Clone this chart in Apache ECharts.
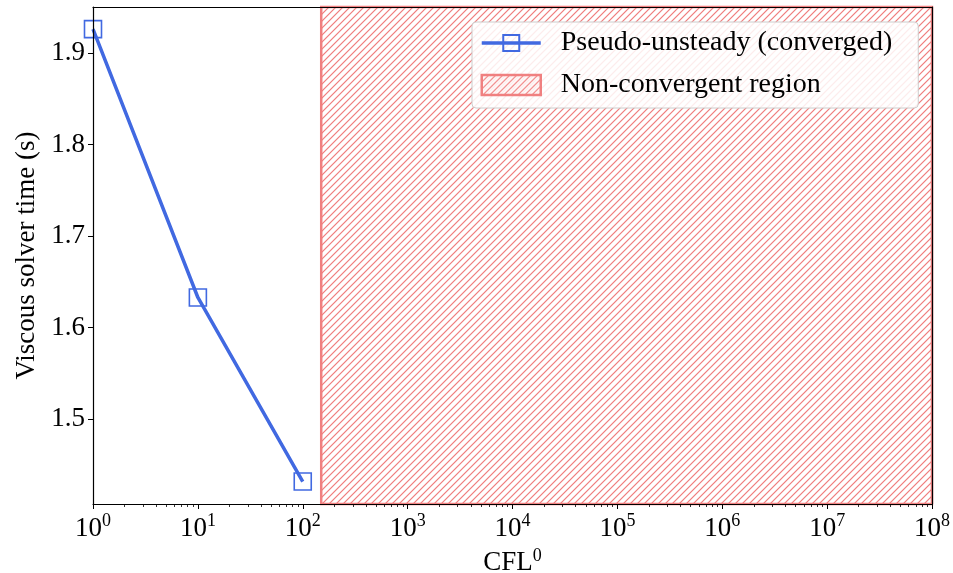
<!DOCTYPE html>
<html>
<head>
<meta charset="utf-8">
<script src="https://cdn.jsdelivr.net/npm/echarts@6/dist/echarts.min.js"></script>
<style>html,body{margin:0;padding:0;background:#fff}#chart{width:953px;height:573px}</style>
</head>
<body>
<div id="chart"></div>
<script>
// ---- data ----
const cflValues = [1, 10, 100];
const solverTimes = [1.926, 1.633, 1.432];
const regionStart = 150;
const regionEnd = 1e8;
const xMajorTicks = [1, 10, 100, 1e3, 1e4, 1e5, 1e6, 1e7, 1e8];
const yTicks = [1.5, 1.6, 1.7, 1.8, 1.9];
const xMin = 1, xMax = 1e8;
const yMin = 1.4075, yMax = 1.9502;
const seriesName = 'Pseudo-unsteady (converged)';
const regionName = 'Non-convergent region';

// minor tick positions (2..9 per decade)
const xMinorTicks = [];
for (let d = 0; d < 8; d++) for (let m = 2; m <= 9; m++) xMinorTicks.push(m * Math.pow(10, d));

// hatch pattern (anti-aliased diagonal lines "/")
const blue = '#4169e1', coral = '#f08080';
const s = 7;
const tile = document.createElement('canvas');
tile.width = s; tile.height = s;
const tc = tile.getContext('2d');
const img = tc.createImageData(s, s);
const lw = 1.1;
for (let y = 0; y < s; y++) {
  for (let x = 0; x < s; x++) {
    const t = ((x + 0.5) + (y + 0.5)) % s;
    const dd = Math.min(t, s - t) / Math.SQRT2;
    const a = Math.max(0, Math.min(1, lw / 2 + 0.5 - dd));
    const i = (y * s + x) * 4;
    img.data[i] = 240; img.data[i + 1] = 128; img.data[i + 2] = 128;
    img.data[i + 3] = Math.round(a * 255);
  }
}
tc.putImageData(img, 0, 0);
const hatch = { image: tile, repeat: 'repeat' };

const font = 'Liberation Serif';
const fs = 27;
const rich = {
  b: { fontFamily: font, fontSize: fs, color: '#000', verticalAlign: 'bottom', lineHeight: 30 },
  s: { fontFamily: font, fontSize: 18, color: '#000', verticalAlign: 'top', lineHeight: 30, padding: [0, 0, 10, 0] }
};

const chart = echarts.init(document.getElementById('chart'), null, { renderer: 'canvas' });
chart.setOption({
  animation: false,
  grid: { left: 93, right: 21, top: 7, bottom: 69, show: false, outerBoundsMode: 'none', containLabel: false },
  legend: {
    orient: 'vertical', left: 472, top: 22,
    padding: [6, 26, 8, 8], itemGap: 12,
    itemWidth: 59, itemHeight: 20,
    backgroundColor: 'rgba(255,255,255,0.85)',
    borderColor: '#cccccc', borderWidth: 1, borderRadius: 4,
    textStyle: { fontFamily: font, fontSize: 28, color: '#000', padding: [0, 0, 0, 15], lineHeight: 30 },
    data: [
      { name: seriesName, lineStyle: { color: blue, width: 3.5 } },
      { name: regionName, icon: 'rect', itemStyle: { color: hatch, borderColor: coral, borderWidth: 2.5 } }
    ],
    z: 10
  },
  xAxis: [
    {
      type: 'log', logBase: 10, min: xMin, max: xMax, position: 'bottom', z: 5,
      name: '{b|CFL}{s|0}', nameLocation: 'middle', nameGap: 31,
      nameTextStyle: { rich: rich },
      axisLine: { show: true, lineStyle: { color: '#000', width: 1.2 } },
      axisTick: { show: true, length: 5, lineStyle: { color: '#000', width: 1 }, customValues: xMajorTicks },
      axisLabel: {
        customValues: xMajorTicks, margin: 8,
        formatter: v => '{b|10}{s|' + Math.round(Math.log10(v)) + '}', rich: rich
      },
      splitLine: { show: false }
    },
    {
      type: 'log', logBase: 10, min: xMin, max: xMax, position: 'bottom', z: 5,
      axisLine: { show: false },
      axisTick: { show: true, length: 3, lineStyle: { color: '#000', width: 0.8 }, customValues: xMinorTicks },
      axisLabel: { show: false },
      splitLine: { show: false }
    },
    {
      type: 'log', logBase: 10, min: xMin, max: xMax, position: 'top', z: 5,
      axisLine: { show: true, lineStyle: { color: '#000', width: 1.2 } },
      axisTick: { show: false }, axisLabel: { show: false }, splitLine: { show: false }
    }
  ],
  yAxis: [
    {
      type: 'value', min: yMin, max: yMax, position: 'left', z: 5,
      name: 'Viscous solver time (s)', nameLocation: 'middle', nameGap: 52,
      nameTextStyle: { fontFamily: font, fontSize: fs, color: '#000' },
      axisLine: { show: true, lineStyle: { color: '#000', width: 1.2 } },
      axisTick: { show: true, length: 5, lineStyle: { color: '#000', width: 1 }, customValues: yTicks },
      axisLabel: {
        customValues: yTicks, margin: 8, fontFamily: font, fontSize: fs, color: '#000',
        formatter: v => v.toFixed(1)
      },
      splitLine: { show: false }
    },
    {
      type: 'value', min: yMin, max: yMax, position: 'right', z: 5,
      axisLine: { show: true, lineStyle: { color: '#000', width: 1.2 } },
      axisTick: { show: false }, axisLabel: { show: false }, splitLine: { show: false }
    }
  ],
  series: [
    {
      name: regionName, type: 'custom', xAxisIndex: 0, yAxisIndex: 0, z: 1,
      itemStyle: { color: hatch, borderColor: coral, borderWidth: 2.5 },
      data: [[regionStart, regionEnd]],
      renderItem: function (params, api) {
        const p0 = api.coord([api.value(0), yMax]);
        const p1 = api.coord([api.value(1), yMin]);
        return {
          type: 'rect',
          shape: { x: p0[0], y: p0[1], width: p1[0] - p0[0], height: p1[1] - p0[1] },
          style: { fill: hatch, stroke: coral, lineWidth: 2.5 }
        };
      }
    },
    {
      name: seriesName, type: 'line', xAxisIndex: 0, yAxisIndex: 0, z: 3,
      data: cflValues.map((x, i) => [x, solverTimes[i]]),
      symbol: 'rect', symbolSize: 17,
      lineStyle: { color: blue, width: 3.5 },
      itemStyle: { color: 'rgba(0,0,0,0)', borderColor: blue, borderWidth: 1.6 },
      clip: true
    }
  ]
});
</script>
</body>
</html>
